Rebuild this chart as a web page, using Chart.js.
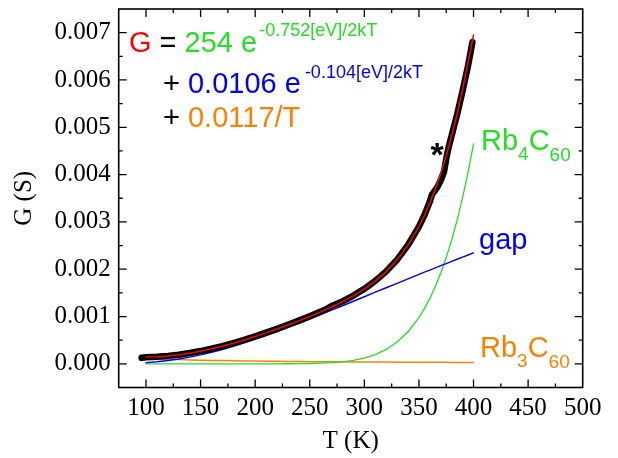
<!DOCTYPE html>
<html>
<head>
<meta charset="utf-8">
<script src="https://cdn.jsdelivr.net/npm/chart.js@4.4.0/dist/chart.umd.min.js"></script>
<style>
  html, body { margin: 0; padding: 0; background: #fff; }
  #wrap { width: 618px; height: 458px; }
</style>
</head>
<body>
<div id="wrap"><canvas id="chart" width="618" height="458"></canvas></div>
<script>
// Temperaturas do ajuste (K)
const fitT = [100, 110, 120, 130, 140, 150, 160, 170, 180, 190, 200, 210, 220, 230, 240, 250, 260,
  270, 280, 290, 300, 310, 320, 330, 340, 350, 355, 360, 365, 370, 375, 380, 385, 390, 395, 400]

// Ajuste total G (S), vermelho
const fitTotal = [1.42e-4, 1.50e-4, 1.67e-4, 1.92e-4, 2.26e-4, 2.68e-4, 3.17e-4, 3.73e-4, 4.36e-4,
  5.04e-4, 5.78e-4, 6.55e-4, 7.35e-4, 8.21e-4, 9.09e-4, 1.002e-3, 1.099e-3, 1.202e-3, 1.313e-3,
  1.438e-3, 1.580e-3, 1.748e-3, 1.949e-3, 2.198e-3, 2.509e-3, 2.902e-3, 3.136e-3, 3.398e-3,
  3.694e-3, 4.026e-3, 4.397e-3, 4.815e-3, 5.280e-3, 5.800e-3, 6.379e-3, 6.950e-3]

// Componente "gap" (azul)
const fitGap = [2.54e-5, 4.39e-5, 6.94e-5, 1.02e-4, 1.42e-4, 1.90e-4, 2.44e-4, 3.04e-4, 3.71e-4,
  4.42e-4, 5.19e-4, 5.99e-4, 6.82e-4, 7.69e-4, 8.57e-4, 9.48e-4, 1.041e-3, 1.134e-3, 1.228e-3,
  1.323e-3, 1.418e-3, 1.514e-3, 1.608e-3, 1.702e-3, 1.797e-3, 1.890e-3, 1.937e-3, 1.982e-3,
  2.029e-3, 2.074e-3, 2.120e-3, 2.166e-3, 2.211e-3, 2.256e-3, 2.300e-3, 2.345e-3]

// Componente Rb4C60 (verde)
const fitRb4 = [0, 0, 0, 0, 0, 0, 0, 0, 0, 0, 0, 0, 0, 1.5e-6, 3.2e-6, 6.7e-6, 1.31e-5, 2.43e-5,
  4.33e-5, 7.42e-5, 1.225e-4, 1.96e-4, 3.04e-4, 4.60e-4, 6.78e-4, 9.79e-4, 1.166e-3, 1.383e-3,
  1.633e-3, 1.920e-3, 2.246e-3, 2.618e-3, 3.039e-3, 3.514e-3, 4.049e-3, 4.650e-3]

// Componente Rb3C60 (laranja)
const fitRb3 = [1.17e-4, 1.064e-4, 9.75e-5, 9.0e-5, 8.36e-5, 7.8e-5, 7.31e-5, 6.88e-5, 6.5e-5,
  6.16e-5, 5.85e-5, 5.57e-5, 5.32e-5, 5.09e-5, 4.88e-5, 4.68e-5, 4.5e-5, 4.33e-5, 4.18e-5,
  4.03e-5, 3.9e-5, 3.77e-5, 3.66e-5, 3.55e-5, 3.44e-5, 3.34e-5, 3.30e-5, 3.25e-5, 3.21e-5,
  3.16e-5, 3.12e-5, 3.08e-5, 3.04e-5, 3.0e-5, 2.96e-5, 2.93e-5]

// Dados medidos (preto)
const dataT = [96, 100, 110, 120, 130, 140, 150, 160, 170, 180, 190, 200, 210, 220, 230, 240, 250,
  260, 266, 270, 274, 280, 290, 300, 310, 320, 330, 340, 350, 355, 360, 362, 364, 367, 370, 373,
  375, 377, 380, 385, 390, 395, 399]
const dataG = [1.28e-4, 1.38e-4, 1.50e-4, 1.68e-4, 1.94e-4, 2.28e-4, 2.70e-4, 3.20e-4, 3.76e-4,
  4.40e-4, 5.08e-4, 5.83e-4, 6.60e-4, 7.40e-4, 8.26e-4, 9.14e-4, 1.007e-3, 1.104e-3, 1.168e-3,
  1.222e-3, 1.258e-3, 1.320e-3, 1.444e-3, 1.586e-3, 1.754e-3, 1.954e-3, 2.202e-3, 2.512e-3,
  2.900e-3, 3.140e-3, 3.430e-3, 3.580e-3, 3.640e-3, 3.740e-3, 3.880e-3, 4.060e-3, 4.330e-3,
  4.560e-3, 4.830e-3, 5.270e-3, 5.770e-3, 6.300e-3, 6.800e-3]

// Ticks dos eixos
const xTicks = [100, 150, 200, 250, 300, 350, 400, 450, 500]
const yTicks = [0, 0.001, 0.002, 0.003, 0.004, 0.005, 0.006, 0.007]

const serif = "'Liberation Serif', 'Times New Roman', serif"
const sans = "'Liberation Sans', Arial, sans-serif"

const RED = '#ff0000'
const GREEN = '#22e022'
const BLUE = '#0000ff'
const ORANGE = '#ff8000'

const pts = (xs, ys) => xs.map((x, i) => ({ x: x, y: ys[i] }))

const line = (label, data, color, width) => ({
  label: label,
  data: data,
  borderColor: color,
  borderWidth: width,
  pointRadius: 0,
  fill: false,
  tension: 0,
  borderJoinStyle: 'round',
  borderCapStyle: 'round'
})

// Moldura com ticks para dentro nos quatro lados
const framePlugin = {
  id: 'frame',
  afterDraw(chart) {
    const { ctx, chartArea: a, scales: { x, y } } = chart
    ctx.save()
    ctx.strokeStyle = '#000'
    ctx.lineWidth = 1.6
    ctx.strokeRect(a.left, a.top, a.right - a.left, a.bottom - a.top)
    ctx.lineWidth = 1.3

    const xMinor = xTicks.slice(1).map((v, i) => (v + xTicks[i]) / 2)
    const yMinor = yTicks.slice(1).map((v, i) => (v + yTicks[i]) / 2)
    yMinor.unshift(yTicks[0] - 0.0005)
    yMinor.push(yTicks[yTicks.length - 1] + 0.0005)

    const vTick = (v, len) => {
      const px = x.getPixelForValue(v)
      if (px <= a.left + 1 || px >= a.right - 1) return
      ctx.beginPath()
      ctx.moveTo(px, a.bottom); ctx.lineTo(px, a.bottom - len)
      ctx.moveTo(px, a.top); ctx.lineTo(px, a.top + len)
      ctx.stroke()
    }
    const hTick = (v, len) => {
      const py = y.getPixelForValue(v)
      if (py <= a.top + 1 || py >= a.bottom - 1) return
      ctx.beginPath()
      ctx.moveTo(a.left, py); ctx.lineTo(a.left + len, py)
      ctx.moveTo(a.right, py); ctx.lineTo(a.right - len, py)
      ctx.stroke()
    }
    xTicks.forEach(v => vTick(v, 8))
    xMinor.forEach(v => vTick(v, 4))
    yTicks.forEach(v => hTick(v, 8))
    yMinor.forEach(v => hTick(v, 4))
    ctx.restore()
  }
}

// Textos: equação e rótulos das curvas
function drawRuns(ctx, x, y, runs) {
  for (const r of runs) {
    x += r.gap || 0
    ctx.font = `${r.bold ? 'bold ' : ''}${r.size || 29}px ${sans}`
    ctx.fillStyle = r.color
    ctx.fillText(r.text, x, y + (r.dy || 0))
    x += ctx.measureText(r.text).width
  }
}

const textPlugin = {
  id: 'labels',
  afterDraw(chart) {
    const ctx = chart.ctx
    ctx.save()
    ctx.textBaseline = 'alphabetic'
    ctx.textAlign = 'left'
    drawRuns(ctx, 129, 52, [
      { text: 'G', color: RED },
      { text: ' = ', color: '#000' },
      { text: '254 e', color: GREEN },
      { text: '-0.752[eV]/2kT', color: GREEN, size: 18, dy: -16, gap: 2 }
    ])
    drawRuns(ctx, 163, 93, [
      { text: '+ ', color: '#000' },
      { text: '0.0106 e', color: BLUE },
      { text: '-0.104[eV]/2kT', color: BLUE, size: 18, dy: -15, gap: 4 }
    ])
    drawRuns(ctx, 163, 127, [
      { text: '+ ', color: '#000' },
      { text: '0.0117/T', color: ORANGE }
    ])
    drawRuns(ctx, 481, 150, [
      { text: 'Rb', color: GREEN },
      { text: '4', color: GREEN, size: 19, dy: 10 },
      { text: 'C', color: GREEN },
      { text: '60', color: GREEN, size: 19, dy: 11 }
    ])
    drawRuns(ctx, 479, 249, [{ text: 'gap', color: BLUE }])
    drawRuns(ctx, 480, 357, [
      { text: 'Rb', color: ORANGE },
      { text: '3', color: ORANGE, size: 19, dy: 10 },
      { text: 'C', color: ORANGE },
      { text: '60', color: ORANGE, size: 19, dy: 11 }
    ])
    ctx.textAlign = 'center'
    ctx.font = `bold 34px ${sans}`
    ctx.fillStyle = '#000'
    ctx.fillText('*', 437, 166)
    ctx.restore()
  }
}

new Chart(document.getElementById('chart'), {
  type: 'line',
  data: {
    datasets: [
      line('G fit', pts(fitT, fitTotal), RED, 1.5),
      line('dados', pts(dataT, dataG), '#000', 6.5),
      line('gap', pts(fitT, fitGap), BLUE, 1.4),
      line('Rb4C60', pts(fitT, fitRb4), GREEN, 1.3),
      line('Rb3C60', pts(fitT, fitRb3), ORANGE, 1.5)
    ]
  },
  options: {
    responsive: false,
    animation: false,
    events: [],
    layout: { padding: { left: 0, right: 35.3, top: 9, bottom: 0 } },
    plugins: {
      legend: { display: false },
      tooltip: { enabled: false }
    },
    scales: {
      x: {
        type: 'linear',
        min: 75,
        max: 500,
        afterBuildTicks: s => { s.ticks = xTicks.map(v => ({ value: v })) },
        afterFit: s => {
          s.height = 70.5
          s.paddingLeft = 0
          s.paddingRight = 0
        },
        grid: { display: false, drawTicks: false },
        border: { display: false },
        ticks: {
          padding: 6,
          color: '#000',
          font: { family: serif, size: 25 },
          maxRotation: 0,
          autoSkip: false
        },
        title: {
          display: true,
          text: 'T (K)',
          color: '#000',
          font: { family: serif, size: 25 },
          padding: { top: 0, bottom: 2 }
        }
      },
      y: {
        type: 'linear',
        min: -0.0005,
        max: 0.0075,
        afterBuildTicks: s => { s.ticks = yTicks.map(v => ({ value: v })) },
        afterFit: s => {
          s.width = 118.7
          s.paddingTop = 0
          s.paddingBottom = 0
        },
        grid: { display: false, drawTicks: false },
        border: { display: false },
        ticks: {
          padding: 8,
          color: '#000',
          font: { family: serif, size: 25 },
          autoSkip: false,
          callback: v => v.toFixed(3)
        },
        title: {
          display: true,
          text: 'G (S)',
          color: '#000',
          font: { family: serif, size: 25 },
          padding: { top: 9, bottom: 0 }
        }
      }
    }
  },
  plugins: [framePlugin, textPlugin]
})
</script>
</body>
</html>
